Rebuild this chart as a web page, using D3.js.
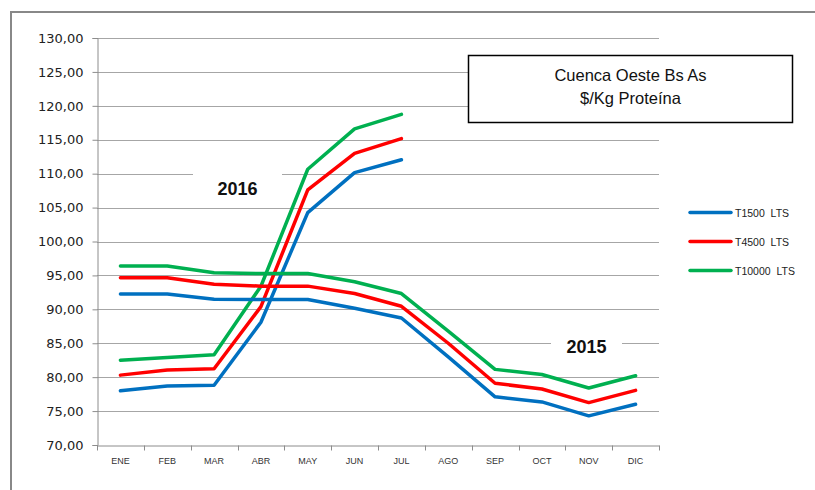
<!DOCTYPE html>
<html><head><meta charset="utf-8">
<script src="https://cdn.jsdelivr.net/npm/d3@7"></script>
<style>body{margin:0;background:#fff}svg{display:block}</style>
</head><body>
<script>
const months = ["ENE","FEB","MAR","ABR","MAY","JUN","JUL","AGO","SEP","OCT","NOV","DIC"];
const seriesNames = ["T1500  LTS","T4500  LTS","T10000  LTS"];
const seriesColors = ["#0070C0","#FF0000","#00B050"];
const yTicks = [70,75,80,85,90,95,100,105,110,115,120,125,130];
// 2016 (ENE–JUL)
const t1500_2016 = [78.0, 78.7, 78.8, 88.1, 104.25, 110.15, 112.06];
const t4500_2016 = [80.3, 81.05, 81.25, 90.4, 107.6, 113.0, 115.16];
const t10000_2016 = [82.5, 82.9, 83.3, 93.4, 110.65, 116.6, 118.75];
// 2015 (ENE–DIC)
const t1500_2015 = [92.26, 92.26, 91.5, 91.45, 91.45, 90.15, 88.72, 83.0, 77.1, 76.35, 74.3, 76.0];
const t4500_2015 = [94.67, 94.67, 93.7, 93.42, 93.42, 92.33, 90.45, 85.0, 79.1, 78.25, 76.25, 78.05];
const t10000_2015 = [96.4, 96.4, 95.4, 95.28, 95.28, 94.07, 92.33, 86.8, 81.15, 80.4, 78.4, 80.2];
const titleLines = ["Cuenca Oeste Bs As", "$/Kg Proteína"];

const W = 815, H = 490;
const svg = d3.select("body").append("svg").attr("width", W).attr("height", H);

// outer frame (cut off at right/bottom)
svg.append("rect").attr("x", 11).attr("y", 12).attr("width", 830).attr("height", 500)
  .attr("fill", "#fff").attr("stroke", "#888").attr("stroke-width", 2);

const pL = 97, pR = 659, pT = 38, pB = 445;
const x = d3.scaleBand().domain(months).range([pL, pR]);
const y = d3.scaleLinear().domain([70, 130]).range([pB, pT]);

// gridlines
svg.append("g").selectAll("line").data(yTicks.slice(1)).join("line")
  .attr("x1", pL).attr("x2", pR)
  .attr("y1", d => Math.round(y(d)) + 0.5).attr("y2", d => Math.round(y(d)) + 0.5)
  .attr("stroke", "#A6A6A6").attr("stroke-width", 1);

// y axis
const yAxis = svg.append("g").attr("transform", `translate(${pL + 0.5},0)`)
  .call(d3.axisLeft(y).tickValues(yTicks).tickSize(5).tickPadding(9)
    .tickFormat(d => d3.format(".2f")(d).replace(".", ",")));
yAxis.select(".domain").attr("stroke", "#8c8c8c");
yAxis.selectAll(".tick line").attr("stroke", "#8c8c8c");
yAxis.selectAll("text").attr("font-family", "DejaVu Sans").attr("font-size", 13).attr("fill", "#222");

// x axis
const xAxis = svg.append("g").attr("transform", `translate(0,${pB + 0.5})`)
  .call(d3.axisBottom(x).tickSize(0).tickPadding(12));
xAxis.select(".domain").attr("stroke", "#8c8c8c");
xAxis.selectAll("text").attr("font-family", "Liberation Sans, Arial").attr("font-size", 9).attr("fill", "#333");
const bounds = months.map(m => x(m)).concat([pR]);
xAxis.append("g").selectAll("line").data(bounds).join("line")
  .attr("x1", d => Math.round(d) + 0.5).attr("x2", d => Math.round(d) + 0.5)
  .attr("y1", 0).attr("y2", 5).attr("stroke", "#8c8c8c");

// lines
const line = d3.line().x((d, i) => x(months[i]) + x.bandwidth() / 2).y(d => y(d));
const allSeries = [
  [t1500_2016, 0], [t4500_2016, 1], [t10000_2016, 2],
  [t1500_2015, 0], [t4500_2015, 1], [t10000_2015, 2]
];
svg.append("g").selectAll("path").data(allSeries).join("path")
  .attr("d", d => line(d[0])).attr("fill", "none")
  .attr("stroke", d => seriesColors[d[1]]).attr("stroke-width", 3.5)
  .attr("stroke-linejoin", "round").attr("stroke-linecap", "round");

// year labels
function yearLabel(txt, cx, baseline, bx0, bx1, by0, by1) {
  svg.append("rect").attr("x", bx0).attr("y", by0).attr("width", bx1 - bx0).attr("height", by1 - by0).attr("fill", "#fff");
  svg.append("text").attr("x", cx).attr("y", baseline).attr("text-anchor", "middle")
    .attr("font-family", "Liberation Sans, Arial").attr("font-weight", "bold").attr("font-size", 18)
    .attr("fill", "#111").text(txt);
}
yearLabel("2016", 237.5, 195, 193, 282, 168, 204);
yearLabel("2015", 586.5, 353, 551, 622, 330, 366);

// title box
svg.append("rect").attr("x", 468.5).attr("y", 55.5).attr("width", 324).attr("height", 67)
  .attr("fill", "#fff").attr("stroke", "#000").attr("stroke-width", 1.5);
svg.append("g").selectAll("text").data(titleLines).join("text")
  .attr("x", 630.5).attr("y", (d, i) => 81 + i * 23).attr("text-anchor", "middle")
  .attr("font-family", "Liberation Sans, Arial").attr("font-size", 16.5).attr("fill", "#111").text(d => d);

// legend
const lg = svg.append("g").selectAll("g").data(seriesNames).join("g")
  .attr("transform", (d, i) => `translate(690,${212.5 + i * 29})`);
lg.append("line").attr("x1", 0).attr("x2", 41).attr("y1", 0).attr("y2", 0)
  .attr("stroke", (d, i) => seriesColors[i]).attr("stroke-width", 3.5).attr("stroke-linecap", "round");
lg.append("text").attr("x", 45).attr("y", 4).attr("font-family", "Liberation Sans, Arial").attr("font-size", 10.5)
  .attr("fill", "#222").style("white-space", "pre").text(d => d);
</script>
</body></html>
